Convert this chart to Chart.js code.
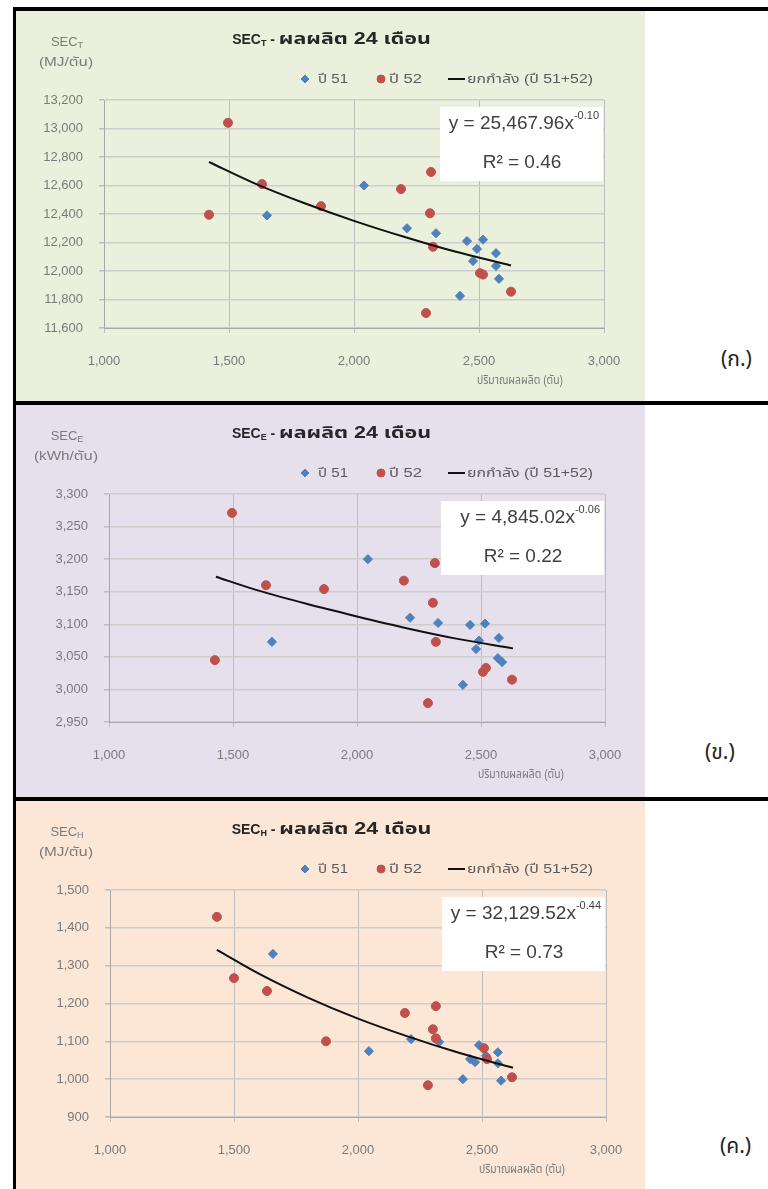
<!DOCTYPE html>
<html lang="th">
<head>
<meta charset="utf-8">
<title>SEC - ผลผลิต 24 เดือน</title>
<script src="https://cdn.jsdelivr.net/npm/chart.js@4.4.1/dist/chart.umd.min.js"></script>
<style>
  html, body { margin: 0; padding: 0; background: #fff; }
  body { position: relative; width: 768px; height: 1189px; overflow: hidden; }
  .bar { position: absolute; background: #000; }
  .panel { position: absolute; left: 16px; width: 629px; }
  .tag { position: absolute; font: 21px "Noto Sans Thai", "Loma", "Garuda", "Norasi", sans-serif; color: #222; line-height: 1; }
</style>
</head>
<body>
<div class="bar" style="left:13px;top:7px;width:755px;height:4px"></div>
<div class="bar" style="left:13px;top:7px;width:3px;height:1182px"></div>
<div class="bar" style="left:13px;top:401px;width:755px;height:4px"></div>
<div class="bar" style="left:13px;top:797px;width:755px;height:4px"></div>

<div class="panel" style="top:11px;height:390px;background:#eaf0dc"><canvas id="chartT"></canvas></div>
<div class="panel" style="top:405px;height:392px;background:#e5e0ec"><canvas id="chartE"></canvas></div>
<div class="panel" style="top:801px;height:388px;background:#fce7d6"><canvas id="chartH"></canvas></div>

<div class="tag" style="left:721px;top:349px">(ก.)</div>
<div class="tag" style="left:705px;top:742px">(ข.)</div>
<div class="tag" style="left:720px;top:1136px">(ค.)</div>

<script>
// x axis: production (tonnes)
const xTicks = [1000, 1500, 2000, 2500, 3000];
const seriesLabels = ['ปี 51', 'ปี 52', 'ยกกำลัง (ปี 51+52)'];

// (ก.) SEC_T, MJ/ton
const yTicksT = [11600, 11800, 12000, 12200, 12400, 12600, 12800, 13000, 13200];
const prod51T = [1652, 2040, 2212, 2328, 2452, 2516, 2492, 2568, 2476, 2568, 2580, 2424];
const sec51T  = [12390, 12600, 12300, 12265, 12210, 12220, 12155, 12125, 12070, 12035, 11945, 11825];
const prod52T = [1420, 1496, 1632, 1868, 2188, 2308, 2304, 2316, 2516, 2504, 2628, 2288];
const sec52T  = [12395, 13040, 12610, 12455, 12575, 12695, 12405, 12170, 11975, 11985, 11855, 11705];
const trendXT = [1420, 1600, 1800, 2000, 2200, 2400, 2628];
const trendYT = [12765, 12617, 12477, 12352, 12240, 12138, 12039];

// (ข.) SEC_E, kWh/ton
const yTicksE = [2950, 3000, 3050, 3100, 3150, 3200, 3250, 3300];
const prod51E = [2044, 1657, 2214, 2327, 2456, 2516, 2492, 2572, 2480, 2568, 2585, 2427];
const sec51E  = [3200, 3073, 3110, 3102, 3099, 3101, 3075, 3079, 3062, 3048, 3042, 3007];
const prod52E = [1496, 1633, 1867, 2314, 2189, 1427, 2306, 2318, 2520, 2508, 2625, 2286];
const sec52E  = [3271, 3160, 3154, 3194, 3167, 3045, 3133, 3073, 3033, 3027, 3015, 2979];
const trendXE = [1431, 1600, 1800, 2000, 2200, 2400, 2629];
const trendYE = [3173, 3152, 3131, 3112, 3094, 3078, 3063];

// (ค.) SEC_H, MJ/ton
const yTicksH = [900, 1000, 1100, 1200, 1300, 1400, 1500];
const prod51H = [1657, 2044, 2214, 2327, 2488, 2564, 2452, 2472, 2564, 2423, 2577, 2516];
const sec51H  = [1331, 1074, 1106, 1098, 1090, 1071, 1053, 1045, 1042, 1000, 996, 1062];
const prod52H = [1431, 1500, 1633, 1871, 2189, 2314, 2302, 2314, 2508, 2520, 2621, 2282];
const sec52H  = [1429, 1267, 1233, 1100, 1175, 1193, 1132, 1108, 1082, 1053, 1005, 984];
const trendXH = [1431, 1600, 1800, 2000, 2200, 2400, 2625];
const trendYH = [1342, 1279, 1215, 1160, 1113, 1071, 1030];

const FONT = '"Liberation Sans", Arial, "Noto Sans Thai", "Loma", sans-serif';
const GREY = '#7a7a7a';
const fmt = v => Number(v).toLocaleString('en-US');
const pts = (xs, ys) => xs.map((x, i) => ({ x, y: ys[i] }));

// text made of runs (sub/superscripts); a run with `fit` is stretched to that width,
// since the Thai fallback font is narrower than the one in the original
function drawRuns(ctx, runs, x, y, align) {
    const widths = runs.map(r => {
        ctx.font = r.font;
        return r.fit || ctx.measureText(r.text).width;
    });
    const total = widths.reduce((s, w) => s + w, 0);
    let cx = align === 'center' ? x - total / 2 : align === 'right' ? x - total : x;
    ctx.textAlign = 'left';
    runs.forEach((r, i) => {
        ctx.font = r.font;
        const sx = r.fit ? r.fit / ctx.measureText(r.text).width : 1;
        ctx.save();
        ctx.translate(cx, y + (r.dy || 0));
        ctx.scale(sx, 1);
        ctx.fillText(r.text, 0, 0);
        ctx.restore();
        cx += widths[i];
    });
}

const decor = {
    id: 'decor',
    beforeDatasetsDraw(chart, args, o) {
        // white label box of the trend equation, over the gridlines
        const { ctx, chartArea: a } = chart;
        ctx.save();
        ctx.fillStyle = '#fff';
        ctx.fillRect(a.right - 164, a.top + 7, 163, 74);
        ctx.restore();
    },
    afterDraw(chart, args, o) {
        const { ctx, chartArea: a, width } = chart;
        ctx.save();
        ctx.textBaseline = 'middle';

        // title
        ctx.fillStyle = '#262626';
        drawRuns(ctx, [
            { text: 'SEC', font: 'bold 14px ' + FONT },
            { text: o.sub, font: 'bold 9px ' + FONT, dy: 4 },
            { text: ' - ', font: 'bold 14px ' + FONT },
            { text: 'ผลผลิต 24 เดือน', font: 'bold 16px ' + FONT, fit: 152 }
        ], width / 2 + 1, 29, 'center');

        // y axis title
        ctx.fillStyle = GREY;
        drawRuns(ctx, [
            { text: 'SEC', font: '13px ' + FONT },
            { text: o.sub, font: '9px ' + FONT, dy: 4 }
        ], 51, 31, 'center');
        drawRuns(ctx, [{ text: o.unit, font: '12px ' + FONT, fit: o.unitW }], 50, 52, 'center');

        // x axis title
        drawRuns(ctx, [{ text: 'ปริมาณผลผลิต (ตัน)', font: '12px ' + FONT, fit: 86 }], a.right - 84, a.bottom + 53, 'center');

        // legend
        const legendX = [289, 365, 440];
        const textX = [302, 373, 451];
        const textW = [30, 33, 126];
        const ly = 68;
        chart.data.datasets.forEach((ds, i) => {
            if (ds.showLine) {
                ctx.strokeStyle = ds.borderColor;
                ctx.lineWidth = 2;
                ctx.beginPath();
                ctx.moveTo(legendX[i] - 8, ly);
                ctx.lineTo(legendX[i] + 9, ly);
                ctx.stroke();
            } else {
                ctx.fillStyle = ds.backgroundColor;
                ctx.strokeStyle = ds.borderColor;
                ctx.lineWidth = 1;
                Chart.helpers.drawPoint(ctx, { pointStyle: ds.pointStyle, radius: 4, rotation: 0, borderWidth: 1 }, legendX[i], ly);
            }
            ctx.fillStyle = '#5a5a5a';
            drawRuns(ctx, [{ text: ds.label, font: '13px ' + FONT, fit: textW[i] }], textX[i], ly, 'left');
        });

        // trend equation
        ctx.fillStyle = '#404040';
        drawRuns(ctx, [
            { text: 'y = ' + o.coef + 'x', font: '19px ' + FONT },
            { text: o.exp, font: '11px ' + FONT, dy: -8 }
        ], a.right - 5, a.top + 24, 'right');
        drawRuns(ctx, [{ text: 'R² = ' + o.r2, font: '19px ' + FONT }], a.right - 82, a.top + 63, 'center');
        ctx.restore();
    }
};

function makeChart(id, p) {
    const tickFont = { family: FONT, size: 13 };
    return new Chart(document.getElementById(id), {
        type: 'scatter',
        data: {
            datasets: [
                { label: seriesLabels[0], data: pts(p.x51, p.y51), pointStyle: 'rectRot', pointRadius: 4.6,
                  backgroundColor: '#4f81bd', borderColor: '#4f81bd', borderWidth: 1, order: 2 },
                { label: seriesLabels[1], data: pts(p.x52, p.y52), pointStyle: 'circle', pointRadius: 4.5,
                  backgroundColor: '#c0504d', borderColor: '#c0504d', borderWidth: 1, order: 1 },
                { label: seriesLabels[2], data: pts(p.tx, p.ty), showLine: true, pointRadius: 0,
                  borderColor: '#111', borderWidth: 2, cubicInterpolationMode: 'monotone', order: 0 }
            ]
        },
        options: {
            responsive: true, maintainAspectRatio: false, animation: false, events: [],
            layout: { padding: { left: 0, right: p.pad[1], top: p.pad[2], bottom: 0 } },
            scales: {
                x: {
                    type: 'linear', min: xTicks[0], max: xTicks[xTicks.length - 1],
                    afterBuildTicks: s => { s.ticks = xTicks.map(v => ({ value: v })); },
                    afterFit: s => { s.height = p.pad[3]; },
                    grid: { color: '#bdbdbd', tickColor: '#bdbdbd', tickLength: 5 },
                    border: { color: '#a8a8a8' },
                    ticks: { color: GREY, font: tickFont, padding: 21, callback: v => fmt(v) }
                },
                y: {
                    min: p.yTicks[0], max: p.yTicks[p.yTicks.length - 1],
                    afterBuildTicks: s => { s.ticks = p.yTicks.map(v => ({ value: v })); },
                    afterFit: s => { s.width = p.pad[0]; },
                    grid: { color: '#cdcdcd', tickColor: '#bdbdbd', tickLength: 5, lineWidth: 1.5 },
                    border: { color: '#a8a8a8' },
                    ticks: { color: GREY, font: tickFont, padding: 16, callback: v => fmt(v) }
                }
            },
            plugins: {
                legend: { display: false },
                tooltip: { enabled: false },
                decor: { sub: p.sub, unit: p.unit, unitW: p.unitW, coef: p.coef, exp: p.exp, r2: p.r2 }
            }
        },
        plugins: [decor]
    });
}

// pad: [y axis width, right, top, x axis height]
makeChart('chartT', { x51: prod51T, y51: sec51T, x52: prod52T, y52: sec52T, tx: trendXT, ty: trendYT,
    yTicks: yTicksT, sub: 'T', unit: '(MJ/ตัน)', unitW: 54, coef: '25,467.96', exp: '-0.10', r2: '0.46', pad: [88, 41, 89, 73] });
makeChart('chartE', { x51: prod51E, y51: sec51E, x52: prod52E, y52: sec52E, tx: trendXE, ty: trendYE,
    yTicks: yTicksE, sub: 'E', unit: '(kWh/ตัน)', unitW: 64, coef: '4,845.02', exp: '-0.06', r2: '0.22', pad: [93, 40, 89, 75] });
makeChart('chartH', { x51: prod51H, y51: sec51H, x52: prod52H, y52: sec52H, tx: trendXH, ty: trendYH,
    yTicks: yTicksH, sub: 'H', unit: '(MJ/ตัน)', unitW: 54, coef: '32,129.52', exp: '-0.44', r2: '0.73', pad: [94, 39, 89, 72] });
</script>
</body>
</html>
